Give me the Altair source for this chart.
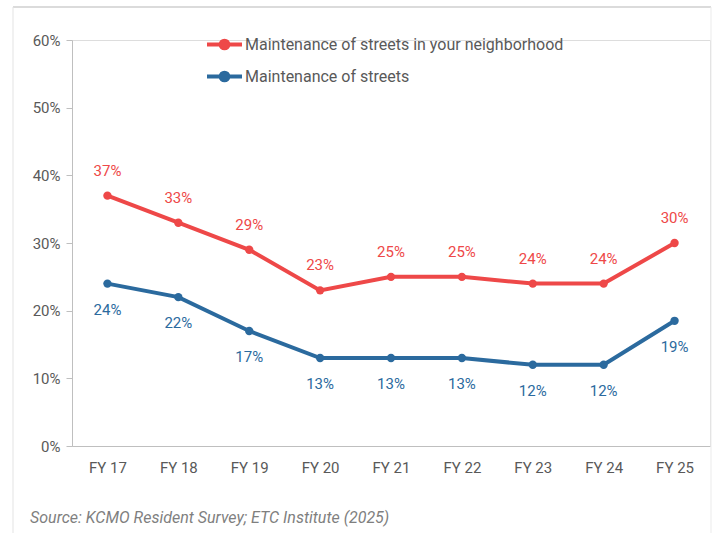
import altair as alt
import pandas as pd

years = ["FY 17", "FY 18", "FY 19", "FY 20", "FY 21", "FY 22", "FY 23", "FY 24", "FY 25"]
neighborhood = [37, 33, 29, 23, 25, 25, 24, 24, 30]
streets = [24, 22, 17, 13, 13, 13, 12, 12, 18.5]
series_names = ["Maintenance of streets in your neighborhood", "Maintenance of streets"]
series_colors = ["#EE4848", "#2B6A9E"]
y_ticks = [0, 10, 20, 30, 40, 50, 60]
source_text = "Source: KCMO Resident Survey; ETC Institute (2025)"

FONT = "Roboto"
FS = 15

rows = []
for y, v in zip(years, neighborhood):
    rows.append({"year": y, "value": v, "series": series_names[0]})
for y, v in zip(years, streets):
    rows.append({"year": y, "value": v, "series": series_names[1]})
df = pd.DataFrame(rows)

color = alt.Color(
    "series:N",
    scale=alt.Scale(domain=series_names, range=series_colors),
    sort=series_names,
    legend=alt.Legend(
        title=None,
        orient="none",
        legendX=133,
        legendY=-15,
        symbolType="M-1,0L1,0M-0.22,0A0.22,0.22 0 1,1 0.22,0A0.22,0.22 0 1,1 -0.22,0",
        symbolSize=1225,
        symbolStrokeWidth=4,
        labelFontSize=16,
        labelFont=FONT,
        labelColor="#595959",
        labelOffset=1,
        labelLimit=500,
        rowPadding=-3,
    ),
)

x = alt.X(
    "year:N",
    sort=years,
    scale=alt.Scale(paddingInner=1, paddingOuter=0.5),
    axis=alt.Axis(
        title=None, labelAngle=0, ticks=False, domainColor="#BFBFBF",
        labelFontSize=FS, labelFont=FONT, labelColor="#595959", labelPadding=14,
    ),
)
y = alt.Y(
    "value:Q",
    scale=alt.Scale(domain=[0, 60]),
    axis=alt.Axis(
        title=None, values=y_ticks, grid=False, domainColor="#BFBFBF", tickColor="#BFBFBF",
        tickSize=6, labelPadding=6, labelFontSize=FS, labelFont=FONT, labelColor="#595959",
        labelExpr="datum.value + '%'",
    ),
)

base = alt.Chart(df)
lines = base.mark_line(strokeWidth=4).encode(x=x, y=y, color=color, detail="series:N")
points = base.mark_point(filled=True, size=70, opacity=1).encode(
    x=x, y=y, color=alt.Color("series:N", scale=alt.Scale(domain=series_names, range=series_colors), legend=None)
)
labels = base.transform_calculate(lab="format(datum.value, '.0f') + '%'")
lab_red = labels.transform_filter(alt.datum.series == series_names[0]).mark_text(
    dy=-25, fontSize=FS, font=FONT, color=series_colors[0]
).encode(x=x, y=y, text="lab:N")
lab_blue = labels.transform_filter(alt.datum.series == series_names[1]).mark_text(
    dy=26, fontSize=FS, font=FONT, color=series_colors[1]
).encode(x=x, y=y, text="lab:N")

one = pd.DataFrame({"t": [source_text]})
source = alt.Chart(one).mark_text(
    align="left", baseline="middle", fontSize=16, font=FONT, fontStyle="italic", color="#7F7F7F"
).encode(x=alt.value(-42), y=alt.value(478), text="t:N")

frame_top = alt.Chart(one).mark_rule(color="#CFCFCF", strokeWidth=1.5).encode(
    x=alt.value(-59), x2=alt.value(639), y=alt.value(-33)
)
frame_left = alt.Chart(one).mark_rule(color="#E3E3E3", strokeWidth=1).encode(
    x=alt.value(-59), y=alt.value(-33), y2=alt.value(493)
)
frame_right = alt.Chart(one).mark_rule(color="#EBEBEB", strokeWidth=1).encode(
    x=alt.value(639), y=alt.value(-33), y2=alt.value(493)
)

chart = (
    alt.layer(frame_top, frame_left, frame_right, lines, points, lab_red, lab_blue, source)
    .properties(
        width=638,
        height=406,
        autosize=alt.AutoSizeParams(type="none"),
        padding={"left": 72, "top": 40, "right": 7, "bottom": 87},
    )
    .configure_view(stroke=None)
    .configure(background="white")
)

chart.save("out.html", embed_options={"renderer": "svg", "actions": False})
